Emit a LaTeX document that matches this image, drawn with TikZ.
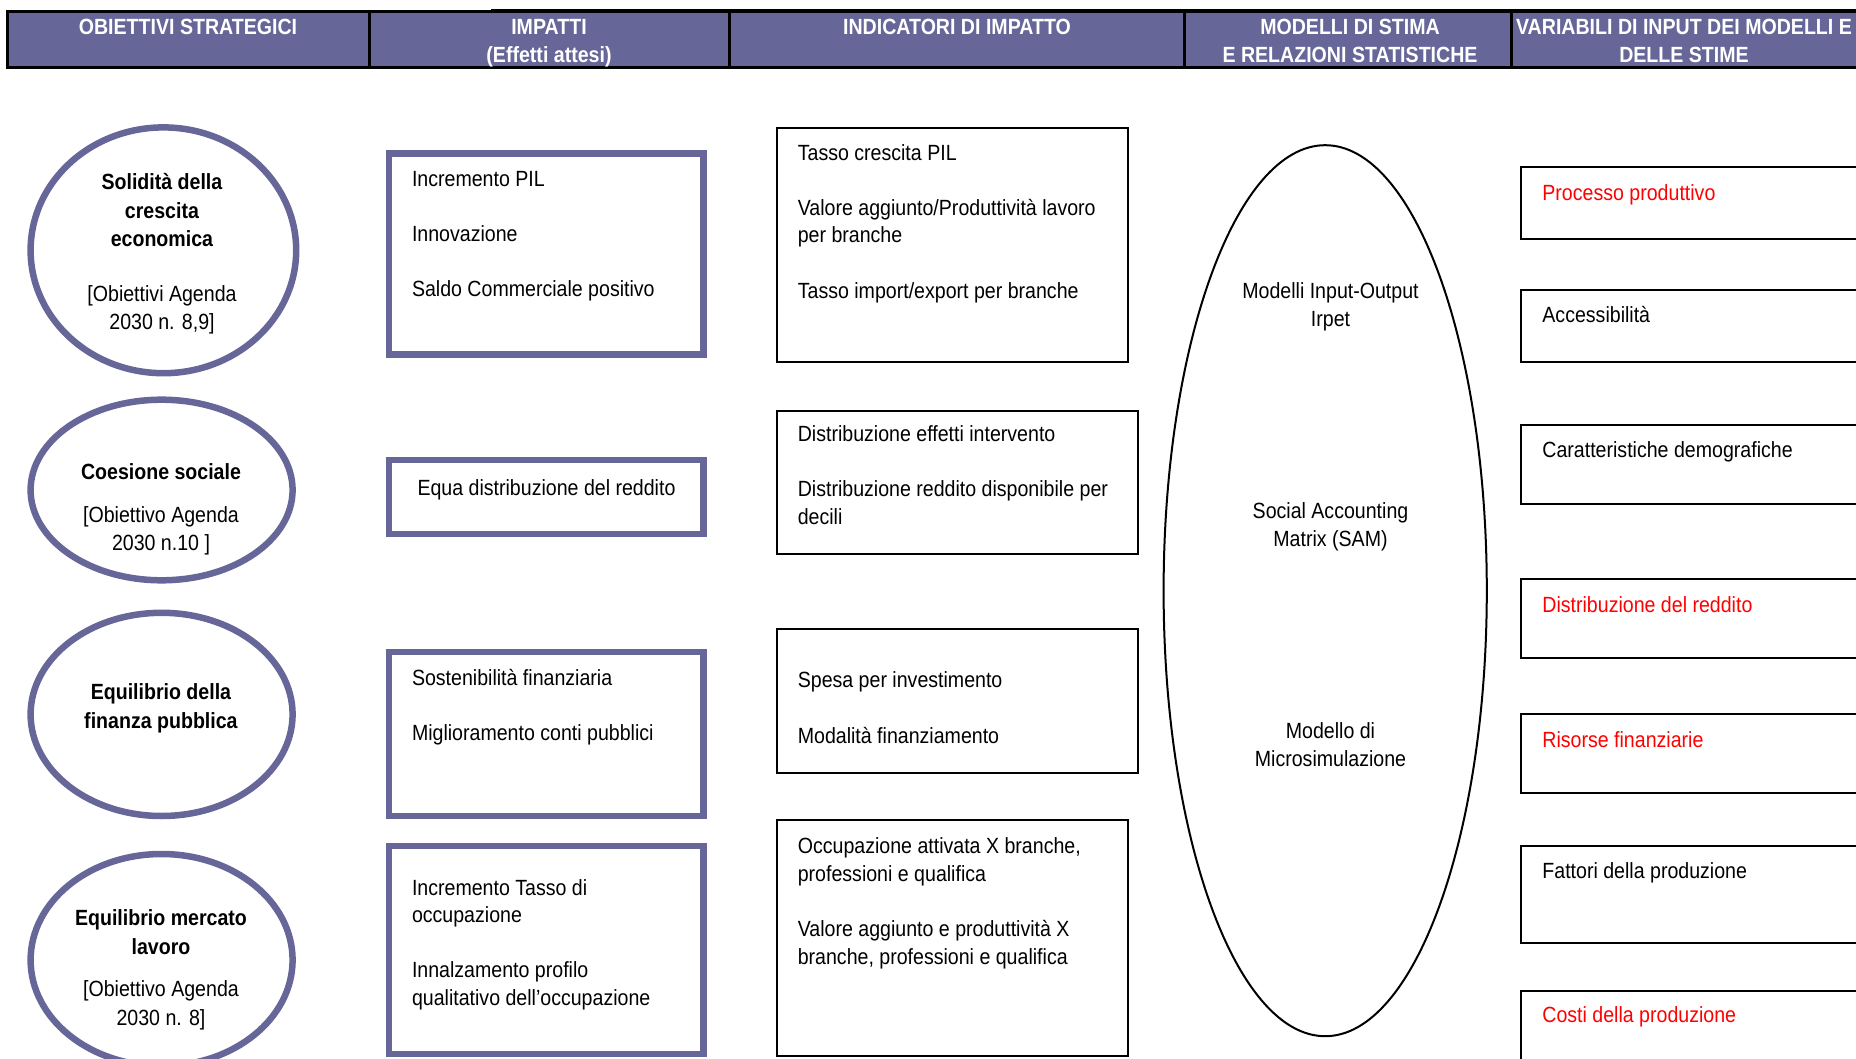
\documentclass[tikz,border=0pt]{standalone}
\usepackage{fontspec}
\setmainfont{Liberation Sans}[FakeStretch=0.89]
\usetikzlibrary{shapes.geometric}
\definecolor{obpurple}{RGB}{102,102,153}
\definecolor{obred}{RGB}{255,0,0}

\begin{document}
\begin{tikzpicture}[x=1pt,y=-1pt,
  txt/.style={inner sep=0pt, outer sep=0pt, yshift=1pt, font=\fontsize{22}{27.6}\selectfont},
  lefttxt/.style={txt, anchor=north west, align=left},
  midtxt/.style={txt, anchor=north, align=center},
  goaltxt/.style={midtxt, yshift=-1pt, font=\fontsize{22}{28.4}\selectfont},
  headtxt/.style={midtxt, yshift=-1pt, text=white, font=\fontsize{22}{28}\selectfont\bfseries},
  headcell/.style={rectangle, fill=obpurple, draw=black, line width=3pt, inner sep=0pt, minimum height=56pt},
  goal/.style={ellipse, draw=obpurple, line width=6.5pt, inner sep=0pt},
  impact/.style={rectangle, draw=obpurple, line width=6.5pt, inner sep=0pt},
  plainbox/.style={rectangle, draw=black, line width=2pt, inner sep=0pt},
  model/.style={ellipse, draw=black, line width=2pt, inner sep=0pt},
  redtxt/.style={lefttxt, text=obred}]

\useasboundingbox (0,0) rectangle (1856,1059);
\clip (0,0) rectangle (1856,1059);

% ---------- header row ----------
\node[headcell, minimum width=362.3pt] (hc1) at (188.15,40) {};
\node[headcell, minimum width=359.9pt] (hc2) at (549.25,40) {};
\node[headcell, minimum width=455.7pt] (hc3) at (957.05,40) {};
\node[headcell, minimum width=326.7pt] (hc4) at (1348.25,40) {};
\node[headcell, minimum width=358.4pt] (hc5) at (1690.8,40) {};
\draw[line width=2pt] (491,10.5) -- (1870,10.5);

\node[headtxt] (ht1) at (188,15.4) {\strut OBIETTIVI STRATEGICI};
\node[headtxt] (ht2) at (549,15.4) {\strut IMPATTI\\(Effetti attesi)};
\node[headtxt] (ht3) at (957,15.4) {\strut INDICATORI DI IMPATTO};
\node[headtxt] (ht4) at (1350,15.4) {\strut MODELLI DI STIMA\\E RELAZIONI STATISTICHE};
\node[headtxt] (ht5) at (1684,15.4) {\strut VARIABILI DI INPUT DEI MODELLI E\\DELLE STIME};

% ---------- strategic goals ----------
\node[goal, minimum width=265.6pt, minimum height=245.8pt] (g1) at (163.4,250.3) {};
\node[goal, minimum width=262pt, minimum height=180.6pt] (g2) at (161.6,490) {};
\node[goal, minimum width=262pt, minimum height=203.2pt] (g3) at (161.6,714.4) {};
\node[goal, minimum width=262pt, minimum height=212pt] (g4) at (161.6,960) {};

\node[goaltxt] (gt1) at (162,170) {\strut\textbf{Solidità della}\\\textbf{crescita}\\\textbf{economica}\\[26pt] [Obiettivi Agenda\\2030 n. 8,9]};
\node[goaltxt] (gt2) at (161,460) {\strut\textbf{Coesione sociale}\\[14.2pt] [Obiettivo Agenda\\2030 n.10 ]};
\node[goaltxt] (gt3) at (161,680) {\strut\textbf{Equilibrio della}\\\textbf{finanza pubblica}};
\node[goaltxt] (gt4) at (161,906) {\strut\textbf{Equilibrio mercato}\\\textbf{lavoro}\\[14.2pt] [Obiettivo Agenda\\2030 n. 8]};

% ---------- impacts ----------
\node[impact, minimum width=314.5pt, minimum height=200.8pt] (i1) at (546.25,253.9) {};
\node[impact, minimum width=314.5pt, minimum height=74pt] (i2) at (546.25,497) {};
\node[impact, minimum width=314.5pt, minimum height=164pt] (i3) at (546.25,734) {};
\node[impact, minimum width=314.5pt, minimum height=208pt] (i4) at (546.25,950) {};

\node[lefttxt] (it1) at (412,167.7) {\strut Incremento PIL\\[27.6pt] Innovazione\\[27.6pt] Saldo Commerciale positivo};
\node[midtxt] (it2) at (546.5,476.7) {\strut Equa distribuzione del reddito};
\node[lefttxt] (it3) at (412,667.3) {\strut Sostenibilità finanziaria\\[27.6pt] Miglioramento conti pubblici};
\node[lefttxt] (it4) at (412,876.8) {\strut Incremento Tasso di\\occupazione\\[27.6pt] Innalzamento profilo\\qualitativo dell’occupazione};

% ---------- impact indicators ----------
\node[plainbox, minimum width=351.5pt, minimum height=234.4pt] (d1) at (952.25,245) {};
\node[plainbox, minimum width=361pt, minimum height=143.3pt] (d2) at (957,482.35) {};
\node[plainbox, minimum width=361pt, minimum height=144.5pt] (d3) at (957,700.75) {};
\node[plainbox, minimum width=351.5pt, minimum height=235.7pt] (d4) at (952.25,938.15) {};

\node[lefttxt] (dt1) at (797.8,141.7) {\strut Tasso crescita PIL\\[27.6pt] Valore aggiunto/Produttività lavoro\\per branche\\[27.6pt] Tasso import/export per branche};
\node[lefttxt] (dt2) at (797.8,423.4) {\strut Distribuzione effetti intervento\\[27.6pt] Distribuzione reddito disponibile per\\decili};
\node[lefttxt] (dt3) at (797.8,669.6) {\strut Spesa per investimento\\[27.6pt] Modalità finanziamento};
\node[lefttxt] (dt4) at (797.8,835.3) {\strut Occupazione attivata X branche,\\professioni e qualifica\\[27.6pt] Valore aggiunto e produttività X\\branche, professioni e qualifica};

% ---------- estimation models ----------
\node[model, minimum width=323.2pt, minimum height=891pt] (m) at (1325.2,590.7) {};
\node[midtxt] (mt1) at (1330.5,280.2) {\strut Modelli Input-Output\\Irpet};
\node[midtxt] (mt2) at (1330.5,500.4) {\strut Social Accounting\\Matrix (SAM)};
\node[midtxt] (mt3) at (1330.5,720.5) {\strut Modello di\\Microsimulazione};

% ---------- input variables ----------
\node[plainbox, minimum width=380pt, minimum height=72.2pt] (v1) at (1711.1,203) {};
\node[plainbox, minimum width=380pt, minimum height=72.2pt] (v2) at (1711.1,326.1) {};
\node[plainbox, minimum width=380pt, minimum height=79.3pt] (v3) at (1711.1,464.65) {};
\node[plainbox, minimum width=380pt, minimum height=79.3pt] (v4) at (1711.1,618.45) {};
\node[plainbox, minimum width=380pt, minimum height=79.3pt] (v5) at (1711.1,753.45) {};
\node[plainbox, minimum width=380pt, minimum height=97.1pt] (v6) at (1711.1,894.85) {};
\node[plainbox, minimum width=380pt, minimum height=120pt] (v7) at (1711.1,1050.8) {};

\node[redtxt] (vt1) at (1542.4,181.9) {\strut Processo produttivo};
\node[lefttxt] (vt2) at (1542.4,303.9) {\strut Accessibilità};
\node[lefttxt] (vt3) at (1542.4,438.8) {\strut Caratteristiche demografiche};
\node[redtxt] (vt4) at (1542.4,593.9) {\strut Distribuzione del reddito};
\node[redtxt] (vt5) at (1542.4,728.8) {\strut Risorse finanziarie};
\node[lefttxt] (vt6) at (1542.4,860.2) {\strut Fattori della produzione};
\node[redtxt] (vt7) at (1542.4,1004.6) {\strut Costi della produzione};
\end{tikzpicture}
\end{document}
